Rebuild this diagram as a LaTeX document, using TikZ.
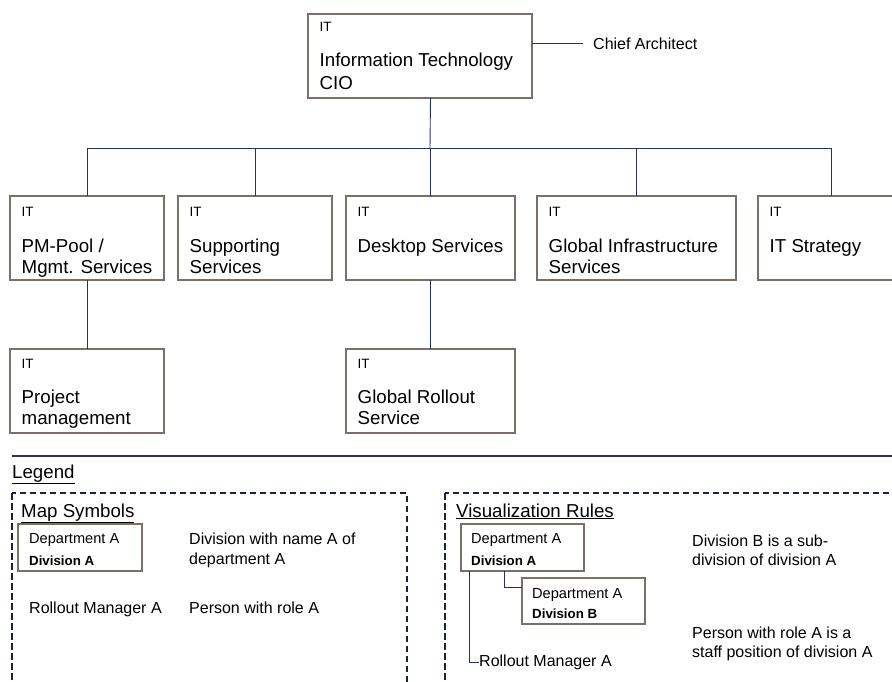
\documentclass[tikz,border=0pt]{standalone}
\usepackage{fontspec}
\setmainfont{Liberation Sans}
\usetikzlibrary{fit,calc}
\newcommand\fsz[1]{\fontsize{#1}{#1}\selectfont}
\definecolor{boxline}{RGB}{122,112,106}
\definecolor{navy}{RGB}{35,50,95}
\definecolor{dashnavy}{RGB}{25,35,65}
\tikzset{
  obox/.style={draw=boxline, line width=2.6pt, inner sep=0pt, outer sep=0pt, fill=white},
  conn/.style={draw=navy, line width=0.9pt},
  itlbl/.style={anchor=base west, inner sep=0pt, font=\fsz{13.5}},
  mainlbl/.style={anchor=base west, inner sep=0pt, font=\fsz{18.7}},
  headlbl/.style={anchor=base west, inner sep=0pt, font=\fsz{18.7}},
  txt/.style={anchor=base west, inner sep=0pt, font=\fsz{16}},
  dept/.style={anchor=base west, inner sep=0pt, font=\fsz{14.6}},
  divlbl/.style={anchor=base west, inner sep=0pt, font=\fsz{13.3}\bfseries},
  dashbox/.style={draw=dashnavy, line width=2.2pt, dash pattern=on 6.5pt off 3.5pt},
}
\newcommand\orgbox[8]{%
  \path (#2,#3) coordinate (#1-nw) (#4,#5) coordinate (#1-se);
  \node[obox, fit=(#1-nw)(#1-se)] (#1) {};
  \node[itlbl] (#1-it) at ([shift={(11.5,#6)}]#1.north west) {IT};
  \node[mainlbl] (#1-a) at ([shift={(11.5,#7)}]#1.north west) {#8};
}
\begin{document}
\begin{tikzpicture}[x=1pt,y=-1pt]
\useasboundingbox (0,0) rectangle (892,682);

% top box
\orgbox{top}{308}{14}{532}{98}{18}{53}{Information Technology}
\node[mainlbl] (top-b) at ([shift={(11.5,76)}]top.north west) {CIO};

% chief architect
\node[txt] (chief) at (593,50) {Chief Architect};
\coordinate (chiefend) at (583,43);
\draw[conn] (chiefend -| top.east) -- (chiefend);

% level 2
\orgbox{b1}{10}{196}{164}{280}{20}{56}{PM-Pool /}
\node[mainlbl] (b1-b) at ([shift={(11.5,77)}]b1.north west) {Mgmt. Services};
\orgbox{b2}{178}{196}{332}{280}{20}{56}{Supporting}
\node[mainlbl] (b2-b) at ([shift={(11.5,77)}]b2.north west) {Services};
\orgbox{b3}{346}{196}{515}{280}{20}{56}{Desktop Services}
\orgbox{b4}{537}{196}{736}{280}{20}{56}{Global Infrastructure}
\node[mainlbl] (b4-b) at ([shift={(11.5,77)}]b4.north west) {Services};
\orgbox{b5}{758}{196}{904}{280}{20}{56}{IT Strategy}

% level 3
\orgbox{pm}{10}{349}{164}{433}{19}{54}{Project}
\node[mainlbl] (pm-b) at ([shift={(11.5,75)}]pm.north west) {management};
\orgbox{gr}{346}{349}{515}{433}{19}{54}{Global Rollout}
\node[mainlbl] (gr-b) at ([shift={(11.5,75)}]gr.north west) {Service};

% connectors
\coordinate (bus) at (430,148);
\draw[conn] (top.south -| b3.north) -- (bus);
\draw[conn] (b1.north) -- (b1.north |- bus) -- (b5.north |- bus) -- (b5.north);
\draw[conn] (b2.north) -- (b2.north |- bus);
\draw[conn] (b3.north) -- (b3.north |- bus);
\draw[conn] (b4.north) -- (b4.north |- bus);
\draw[conn] (b1.south) -- (pm.north);
\draw[conn] (b3.south) -- (gr.north);

% separator
\coordinate (sepL) at (12,456);
\coordinate (sepR) at (892,456);
\draw[draw=navy, line width=1.4pt] (sepL) -- (sepR);

% legend
\node[headlbl] (legend) at (12,478) {\underline{Legend}};
\draw[dashbox] (12,493) rectangle (407,720);
\draw[dashbox] (445,493) rectangle (940,720);

% map symbols
\node[headlbl] (maps) at (21,517) {\underline{Map Symbols}};
\path (18,524) coordinate (lg-nw) (142,571) coordinate (lg-se);
\node[obox, fit=(lg-nw)(lg-se)] (lg) {};
\node[dept] (lg-a) at (29,543) {Department A};
\node[divlbl] (lg-b) at (29,565) {Division A};
\node[txt] (d1) at (189,544) {Division with name A of};
\node[txt] (d2) at (189,564) {department A};
\node[txt] (rm1) at (29,613) {Rollout Manager A};
\node[txt] (d3) at (189,613) {Person with role A};

% visualization rules
\node[headlbl] (vis) at (456,517) {\underline{Visualization Rules}};
\path (461,524) coordinate (va-nw) (584,571) coordinate (va-se);
\node[obox, fit=(va-nw)(va-se)] (va) {};
\node[dept] (va-a) at (471,543) {Department A};
\node[divlbl] (va-b) at (471,565) {Division A};
\path (522,578) coordinate (vb-nw) (645,624) coordinate (vb-se);
\node[obox, fit=(vb-nw)(vb-se)] (vb) {};
\node[dept] (vb-a) at (532,598) {Department A};
\node[divlbl] (vb-b) at (532,618) {Division B};
\node[txt, anchor=west] (rm2) at (479,662) {Rollout Manager A};
\coordinate (subc) at (504,587);
\draw[conn, line width=0.8pt] (subc |- va.south) -- (subc) -- (subc -| vb.west);
\coordinate (staffc) at (469,662);
\draw[conn, line width=0.8pt] (staffc |- va.south) -- (staffc) -- (rm2.west);
\node[txt] (d4) at (692,546) {Division B is a sub-};
\node[txt] (d5) at (692,565) {division of division A};
\node[txt] (d6) at (692,638) {Person with role A is a};
\node[txt] (d7) at (692,657) {staff position of division A};
\end{tikzpicture}
\end{document}
